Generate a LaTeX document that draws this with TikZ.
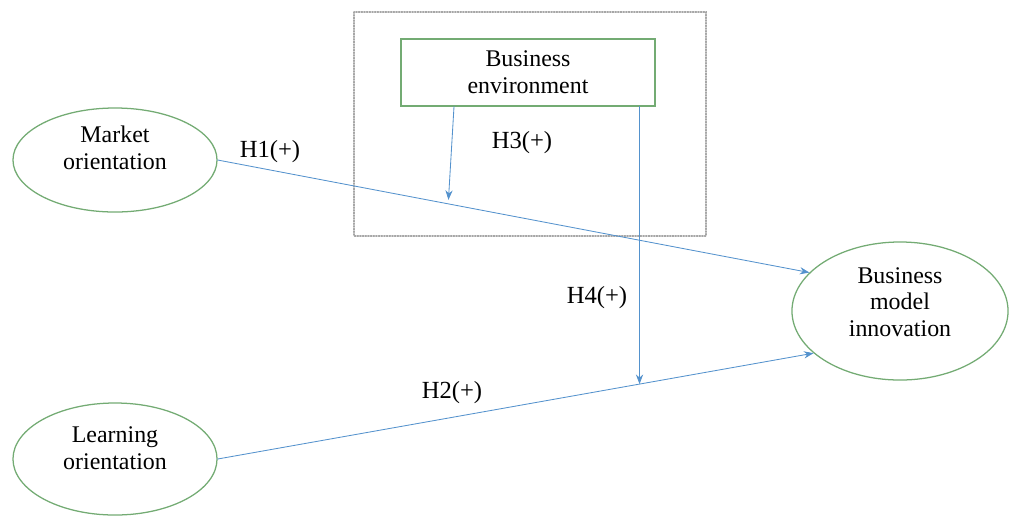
\documentclass[tikz,border=0pt]{standalone}
\usepackage{fontspec}
\setmainfont{Liberation Serif}
\usetikzlibrary{shapes.geometric, arrows.meta, calc}

\begin{document}
\begin{tikzpicture}[x=0.025cm, y=-0.025cm, line cap=round,
		% Styles
		concept/.style={ellipse, draw=conceptcolor, line width=0.9pt, inner sep=0pt, align=center, font=\fontsize{17}{19}\selectfont},
		factor/.style={rectangle, draw=conceptcolor, line width=0.8pt, align=center, font=\fontsize{17}{19}\selectfont},
		frame line/.style={draw=framecolor, densely dotted, line width=0.9pt},
		path line/.style={draw=pathcolor, line width=0.6pt, -{Stealth[length=2.4mm, width=1.8mm]}},
		hypothesis/.style={font=\fontsize{17.5}{19}\selectfont}
		]
		
		% Colors
		\colorlet{conceptcolor}{green!40!black!55!white}
		\definecolor{pathcolor}{RGB}{84,146,205}
		\colorlet{framecolor}{black!35}
		
		\useasboundingbox (0,0) rectangle (1010,516);
		
		% Moderator frame
		\draw[frame line] (354,12) rectangle (706,236);
		
		% Constructs (text depth lifts the text a little above the centre)
		\node[concept, minimum width=5.1cm, minimum height=2.6cm, text depth=17pt] (mo) at (115,160) {Market\\orientation};
		\node[concept, minimum width=5.1cm, minimum height=2.8cm, text depth=16pt] (lo) at (115,459) {Learning\\orientation};
		\node[concept, minimum width=5.4cm, minimum height=3.45cm, text depth=13pt] (bmi) at (900,311) {Business\\model\\innovation};
		\node[factor, minimum width=6.35cm, minimum height=1.675cm] (be) at (528,72.5) {Business\\environment};
		
		% Direct paths
		\draw[path line] (mo.east) -- (bmi.157);
		\draw[path line] (lo.east) -- (bmi.206);
		
		% Points on the direct paths where the moderator hits
		\path (mo.east) -- (bmi.157) coordinate[pos=0.39] (h3end);
		\path (lo.east) -- (bmi.206) coordinate[pos=0.708] (h4end);
		
		% Moderating paths
		\draw[path line] ($(be.south west)!0.21!(be.south east)$) -- ($(h3end)+(0,-4)$);
		\draw[path line] (be.south -| h4end) -- (h4end);
		
		% Hypotheses
		\node[hypothesis] (h1) at (270,152) {H1(+)};
		\node[hypothesis] (h2) at (452,393) {H2(+)};
		\node[hypothesis] (h3) at (522,143) {H3(+)};
		\node[hypothesis] (h4) at (597,298) {H4(+)};
		
	\end{tikzpicture}
\end{document}
